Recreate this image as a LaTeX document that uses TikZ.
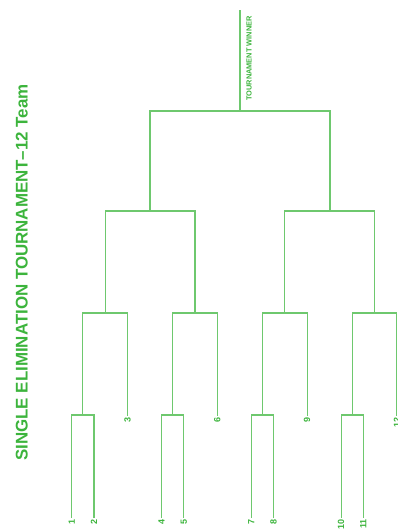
\documentclass[tikz,border=0pt]{standalone}
\usepackage{fontspec}
\setmainfont{Liberation Sans}
\usepackage{xcolor}
\definecolor{linegreen}{RGB}{110,200,110}
\definecolor{textgreen}{RGB}{60,180,60}

\begin{document}
\begin{tikzpicture}[
  x=1pt, y=-1pt,
  line/.style={draw=linegreen, line width=1.1pt},
  team/.style={font=\bfseries\fontsize{9}{9}\selectfont, text=textgreen, rotate=90, anchor=east, inner sep=1pt},
  winner/.style={font=\bfseries\fontsize{7.4}{7.4}\selectfont, text=textgreen, rotate=90, anchor=west, inner sep=0pt},
  title/.style={font=\bfseries\fontsize{16.9}{16.9}\selectfont, text=textgreen, rotate=90, inner sep=0pt}
]
\useasboundingbox (0,0) rectangle (398,531);

% Title
\node[title] (title) at (21.7,272.5) {SINGLE ELIMINATION TOURNAMENT–12 Team};

% Groups of three teams
\foreach \k in {0,1,2,3}{
  \pgfmathtruncatemacro{\a}{3*\k+1}
  \pgfmathtruncatemacro{\b}{3*\k+2}
  \pgfmathtruncatemacro{\c}{3*\k+3}
  \pgfmathsetmacro{\xo}{89.8*\k}
  \node[team] (t\a) at (71.7+\xo,518) {\a};
  \node[team] (t\b) at (94+\xo,518) {\b};
  \node[team] (t\c) at (127.5+\xo,416) {\c};
  \coordinate (m\a) at (82.85+\xo,415);
  \coordinate (q\k) at (105.2+\xo,313);
  \draw[line] (t\a.east) |- (m\a) -| (t\b.east);
  \draw[line] (m\a) |- (q\k) -| (t\c.east);
}

% Semi finals and final
\coordinate (s0) at (150,211);
\coordinate (s1) at (330,211);
\coordinate (f) at (240,111);
\coordinate (w) at (240,10);
\draw[line] (q0) |- (s0) -| (q1);
\draw[line] (q2) |- (s1) -| (q3);
\draw[line] (s0) |- (f) -| (s1);
\draw[line] (f) -- (w);
\node[winner] (winner) at (249,101) {TOURNAMENT WINNER};
\end{tikzpicture}
\end{document}
